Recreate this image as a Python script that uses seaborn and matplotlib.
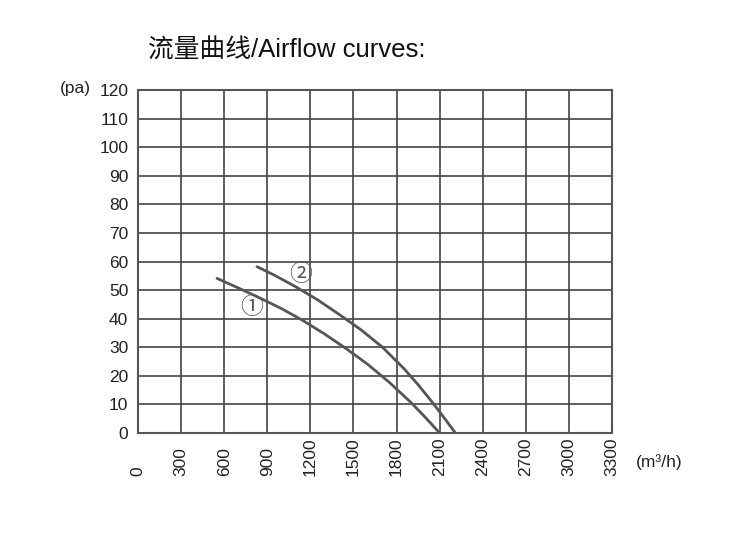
import pandas as pd
import numpy as np
import matplotlib
matplotlib.use('Agg')
import matplotlib.pyplot as plt
import seaborn as sns

# curve 1
flow_1 = [550, 700, 850, 1000, 1150, 1300, 1450, 1600, 1750, 1900, 2000, 2100]
pres_1 = [54.1, 50.7, 47.2, 43.5, 39.3, 34.6, 29.5, 24.0, 17.7, 10.7, 5.5, 0]

# curve 2
flow_2 = [828, 950, 1100, 1250, 1400, 1550, 1700, 1850, 1950, 2050, 2130, 2210]
pres_2 = [58.2, 55.2, 51.1, 46.6, 41.5, 36.2, 30.1, 22.6, 16.9, 10.7, 5.4, 0]

x_ticks = list(range(0, 3301, 300))
y_ticks = list(range(0, 121, 10))

title = '流量曲线/Airflow curves:'
y_unit = '(pa)'
x_unit = '(m³/h)'

df = pd.concat([
    pd.DataFrame({'flow': flow_1, 'pres': pres_1, 'curve': '1'}),
    pd.DataFrame({'flow': flow_2, 'pres': pres_2, 'curve': '2'}),
])

sns.set_style('white')
plt.rcParams['font.family'] = ['Liberation Sans', 'Noto Sans CJK SC', 'DejaVu Sans']

fig = plt.figure(figsize=(7.5, 5.34), dpi=100)
ax = fig.add_axes([138/750, 1-433/534, (612-138)/750, (433-90)/534])

sns.lineplot(data=df, x='flow', y='pres', hue='curve', palette=['#555555', '#555555'],
             linewidth=2, legend=False, ax=ax, estimator=None, sort=True)

ax.set_xlim(0, 3300)
ax.set_ylim(0, 120)
ax.set_xticks(x_ticks)
ax.set_yticks(y_ticks)
ax.set_xticklabels([str(v) for v in x_ticks], rotation=90)
ax.grid(True, color='#444444', linewidth=1.2)
for s in ax.spines.values():
    s.set_color('#555555')
    s.set_linewidth(1.5)
ax.tick_params(axis='both', length=0, labelsize=12.5, colors='#222222')
ax.tick_params(axis='y', pad=7)
ax.tick_params(axis='x', pad=31)
for lab in ax.get_xticklabels():
    lab.set_verticalalignment('bottom')
ax.set_xlabel('')
ax.set_ylabel('')

# circled curve numbers
ax.text(788, 44, '①', fontsize=16.5, color='#555555', ha='center', va='center')
ax.text(1130, 55.6, '②', fontsize=16.5, color='#555555', ha='center', va='center')

fig.text(148/750, 1-51/534, title, fontsize=18.5, ha='left', va='center', color='#111111')
fig.text(60/750, 1-88/534, y_unit, fontsize=12.5, ha='left', va='center', color='#222222')
fig.text(636/750, 1-462/534, x_unit, fontsize=12.5, ha='left', va='center', color='#222222')

fig.savefig('out.png', dpi=100)
